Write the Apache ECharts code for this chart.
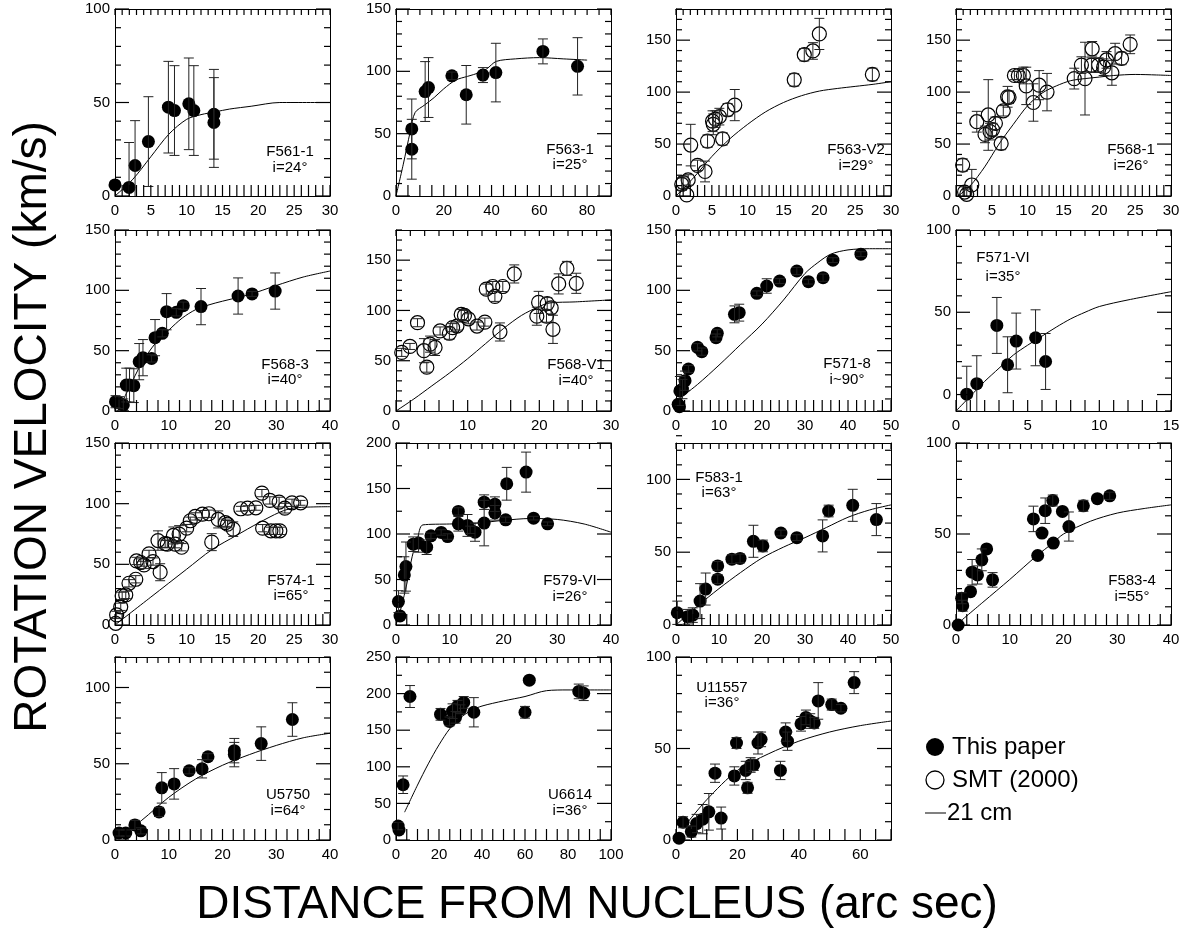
<!DOCTYPE html>
<html><head><meta charset="utf-8">
<script src="https://cdn.jsdelivr.net/npm/echarts@6/dist/echarts.min.js"></script>
<style>html,body{margin:0;padding:0;background:#fff}#c{width:1190px;height:947px}</style>
</head><body><div id="c"></div>
<script>
// ---------- tick label arrays ----------
const x30by5 = [0,5,10,15,20,25,30];
const x90by20 = [0,20,40,60,80];
const x30by10 = [0,10,20,30];
const x40by10 = [0,10,20,30,40];
const x50by10 = [0,10,20,30,40,50];
const x15by5 = [0,5,10,15];
const x100by20 = [0,20,40,60,80,100];
const x70by20 = [0,20,40,60];
const y100 = [0,50,100];
const y150 = [0,50,100,150];
const y200 = [0,50,100,150,200];
const y250 = [0,50,100,150,200,250];

// ---------- data: [radius arcsec, velocity km/s, error] ----------
const f561_1_paper = [[0,5.9,0],[1.96,4.6,24],[2.8,16.3,24],[4.66,29.1,24],[7.45,47.5,24.5],[8.3,45.7,24],[10.3,49.3,24.5],[11.0,45.7,24],[13.8,43.7,24],[13.8,39.3,24]];
const f561_1_hi = [[0,0],[2.5,9],[5,21],[7.5,33],[10,41],[12,43.5],[14,45],[16,46.5],[19,48],[23,50],[30,50]];

const f563_1_paper = [[6.6,53.8,24],[6.6,37.5,24],[12.2,83.8,24],[13.6,87,24],[23.4,96.4,3],[29.4,81.2,23.5],[36.4,97,6],[41.8,99,23.5],[61.5,116,10],[76,104,23]];
const f563_1_hi = [[0,0],[3,25],[6,52],[8,67],[12,73],[16,79],[20,86],[25,93],[30,96],[35,99],[38,102],[42,108],[50,110],[60,111],[70,110],[80,109]];

const f563_v2_smt = [[0.8,11.3,6],[1.0,13,6],[1.5,1,0],[1.7,15.5,5],[2.05,49,20],[3.0,29.5,5],[4.05,23.6,10],[4.4,52.8,6],[5.1,72,10],[5.2,69,10],[5.5,74,8],[6.05,76.4,8],[6.5,55,6],[7.2,83,6],[8.2,87.5,15],[16.5,111.8,6],[17.9,136,6],[19.1,139.6,8],[20,156,15],[27.4,117,6]];
const f563_v2_hi = [[0,0],[2.5,18],[5,38],[7.5,55],[10,69],[12.5,81],[15,90],[17.5,96.5],[20,101],[22.5,103.5],[25,105.5],[27.5,107.5],[30,110]];

const f568_1_smt = [[0.93,29.8,6],[1.2,3.8,5],[1.5,1.6,5],[2.2,10.6,15],[2.9,71.5,10],[4.05,59.3,8],[4.5,78,34],[4.75,62,8],[5.1,64,6],[5.5,70,6],[6.3,50.6,6],[6.6,82,5],[7.2,95.5,10],[7.4,95,6],[8.15,116,4],[8.7,116,4],[9.4,116,8],[9.8,106,18],[10.8,90,18],[11.6,106.7,14],[12.7,100,18],[16.5,113,10],[17.5,126,8],[18,113,35],[18.9,126,7],[19,141.7,7],[19.9,126,7],[20.6,124,8],[21,131,8],[21.75,118.6,12],[22.2,137,10],[23.1,132.4,6],[24.3,146,9]];
const f568_1_hi = [[0.3,0],[2,10],[4,28],[6,50],[8,69],[10,87],[12,99],[14,106],[16,111],[18,113],[20,114.5],[22,116],[25,117],[28,116.5],[30,116]];

const f568_3_paper = [[0.1,7.7,5],[0.75,6.9,5],[1.55,5,5],[2.1,21.5,14],[2.7,21.5,14],[3.5,21,14],[4.5,40.9,15],[5.2,44.2,15],[6.8,43.6,3],[7.45,60.8,15],[8.8,64.4,3],[9.6,82.3,15],[11.4,81.8,3],[12.7,87.3,3],[16,86.5,15],[22.9,95.3,15],[25.5,97,2],[29.8,99.4,15]];
const f568_3_hi = [[0.5,0],[2.5,18],[5,40],[7.5,56],[10,67],[12.5,77],[15,84],[17.5,88],[20,91],[25,96.5],[30,104],[35,111],[40,116]];

const f568_v1_smt = [[0.8,58.3,4],[1.95,64.2,3],[3,87.8,4],[3.9,60,12],[4.3,43.6,5],[4.75,66.5,8],[5.45,63.2,8],[6.15,79.6,4],[7.45,77.3,6],[7.9,82.9,4],[8.5,84.5,4],[9.1,96,5],[9.55,95,5],[10.1,91.7,5],[11.3,84.5,4],[12.4,88.4,4],[12.6,121.2,5],[13.5,123.8,5],[13.8,114,5],[14.9,123.8,5],[14.5,78.6,9],[16.5,136.3,9],[19.65,94.3,9],[19.9,108,11],[21,94.3,6],[21.1,106.8,6],[21.65,102.5,6],[21.9,81.2,14],[22.7,126.4,10],[23.85,141.8,7],[25.15,127,10]];
const f568_v1_hi = [[0,0],[2.5,12],[5,25],[7.5,38],[10,52],[12.5,67],[15,82],[17.5,95],[20,104],[21.5,107.5],[25,108.5],[30,110.5]];

const f571_8_paper = [[0.5,5.5,0],[0.8,3.6,0],[0.9,16.6,12],[1.5,18.2,8],[2.1,25.1,8],[2.9,34.8,3],[5,52.8,3],[6,49.2,3],[9.3,60.8,3],[9.6,64.4,3],[13.6,80.1,7],[14.7,81.5,7],[18.8,97.5,2],[21.1,103.6,6],[24.1,107.7,2],[28.1,116,3],[30.8,107.2,2],[34.2,110.5,3],[36.5,125,2],[43,130,2]];
const f571_8_hi = [[0,8],[5,22],[10,38],[15,55],[20,72],[25,92],[30,114],[33,123],[36,130],[40,133.5],[45,134.5],[50,134.5]];

const f571_vi_paper = [[0.75,0.2,17],[1.45,6.6,17],[2.85,42,17],[3.6,18.1,17],[4.2,32.5,17],[5.55,34.5,17],[6.25,20.1,17]];
const f571_vi_hi = [[0,-10],[1,-1],[2,8],[3,16],[4,24],[5,30],[6,35.5],[7,41],[8,46],[9,50],[10,53.5],[12,57.5],[15,62.5]];

const f574_1_smt = [[0.1,1.4,0],[0.23,8.3,3],[0.8,15,3],[1,24,3],[1.5,24.8,3],[1.95,34.4,3],[2.9,37.7,3],[3,52.8,3],[3.6,51.5,3],[4.05,49.5,3],[4.75,58.6,3],[5.3,52.3,3],[6.3,43.5,7],[6,69.6,8],[7,67,3],[7.3,66.6,3],[8.15,73.8,7],[8.4,66.6,3],[8.95,74.9,7],[9.3,64.1,3],[10,79.8,3],[10.5,85.9,3],[11.2,89.5,3],[12.2,91.4,3],[13.1,91.7,3],[13.5,68.3,7],[14.4,87,7],[15.4,84.3,3],[15.7,83.1,3],[16.5,79,6],[17.55,95.8,2],[18.5,96.3,2],[19.65,96.6,2],[20.5,108.7,3],[20.6,79.8,3],[21.6,102.7,3],[21.75,77.6,3],[22.45,77.6,3],[22.9,101.3,4],[23,77.6,3],[23.7,96.3,4],[24.7,100.7,3],[25.9,100.7,2]];
const f574_1_hi = [[0,0],[5,23],[10,46],[13.5,62],[17,74],[20,84],[23,93],[25,96.5],[30,97.5]];

const f579_vi_paper = [[0.45,25.7,12],[0.75,9.9,0],[1.55,55,20],[1.85,64.2,27],[3.2,88.8,8],[4.2,90,10],[5.7,85.5,8],[6.5,98,3],[8.4,101.7,3],[9.6,97.2,3],[11.6,124.8,4],[11.6,111.2,8],[13.3,109.4,12],[13.8,104.6,4],[14.7,102,10],[16.4,135,8],[16.4,112,25],[18.4,132.8,8],[18.4,123.3,8],[20.4,115.6,3],[20.6,155.2,18],[24.2,168,22],[25.6,117.4,2],[28.2,111.2,2]];
const f579_vi_hi = [[0,0],[1,20],[2,45],[3,75],[4,95],[5,110],[10,111],[15,112],[20,115],[25,117],[30,116],[35,111],[40,102]];

const f583_1_paper = [[0.3,8.4,8],[2.7,5.7,5],[3.9,6.8,5],[5.6,16.4,12],[6.9,24.7,11],[9.7,40.6,3],[9.7,31.5,3],[13,45.2,3],[14.9,45.7,3],[18,57.5,11],[20.2,54.3,4],[24.4,63.2,2],[28.1,60,2],[34.1,61.2,11],[35.5,78.3,4],[41.1,82.2,11],[46.6,72.4,11]];
const f583_1_hi = [[0,0],[5,13],[10,25],[15,36],[20,46],[25,53.5],[30,60],[35,67],[40,74],[45,79],[50,82.5]];

const f583_4_paper = [[0.4,0,0],[1.05,14.7,3],[1.25,10.6,3],[2.7,18.3,0],[3,29,7],[4,27.5,5],[4.8,35.8,6],[5.7,41.8,0],[6.8,24.8,4],[14.4,58.3,7],[15.2,38.2,0],[16,50.5,0],[16.6,62.8,7],[18,68.4,3],[18.1,45,0],[19.8,62.4,0],[21,54.1,8],[23.7,65.5,3],[26.3,69.4,0],[28.6,71,2]];
const f583_4_hi = [[0,0],[5,12.5],[10,25],[15,38],[18,45],[20,50],[25,57],[30,61.5],[35,64],[40,66]];

const u5750_paper = [[0.75,4.6,2],[2,4.6,2],[3.7,9.9,3],[4.8,6,2],[8.2,18.4,3],[8.7,34.2,10],[11,36.8,10],[13.8,45.4,2],[16.2,46.7,6],[17.3,54.6,2],[22.2,58.6,8],[22.2,56,8],[27.2,63.2,11],[33,79,11]];
const u5750_hi = [[0,0],[5,13],[10,28],[15,40],[20,49],[25,56],[30,62],[35,67],[40,70]];

const u6614_paper = [[1,19,5],[1.4,13.7,0],[3.3,75.5,12],[6.5,196,15],[20.7,171.7,8],[24.9,162,6],[26.3,176,10],[27.7,167.6,8],[28.6,182.7,8],[30,178.6,6],[31.5,188,8],[36.2,174.5,20],[60,174.5,8],[62,218.4,0],[85,203,10],[87.3,200.5,10]];
const u6614_hi = [[4,38],[10,75],[15,104],[20,130],[25,152],[30,167],[35,177],[40,183],[50,190],[60,196],[70,204],[80,205],[100,205]];

const u11557_paper = [[1,1,0],[2.3,9.7,3],[5,4.6,3],[6.7,9,5],[8.7,11.4,8],[10.7,15.4,10],[12.7,36.5,5],[14.7,12,6],[19,35,5],[19.7,53,3],[22.7,38,5],[23.3,28.5,3],[24.3,41,4],[25.3,41,3],[26.7,53,6],[27.7,55,4],[34,38,5],[35.7,59,5],[36.3,54,5],[40.7,63.5,4],[42.3,67,4],[43.7,65,4],[45,64,3],[46.3,76,10],[50.7,74,3],[53.7,72,2],[58,86,6]];
const u11557_hi = [[3,8],[10,22],[20,38],[30,47],[40,54],[50,59],[60,62.5],[70,65]];

// ---------- panel definitions ----------
const panels = [
 {name:'F561-1', incl:'i=24\u00b0', paper:f561_1_paper, smt:null, hi:f561_1_hi, xr:[0,30], xm:1, xt:x30by5, yr:[0,100], ym:10, yt:y100},
 {name:'F563-1', incl:'i=25\u00b0', paper:f563_1_paper, smt:null, hi:f563_1_hi, xr:[0,90], xm:5, xt:x90by20, yr:[0,150], ym:10, yt:y150},
 {name:'F563-V2', incl:'i=29\u00b0', paper:null, smt:f563_v2_smt, hi:f563_v2_hi, xr:[0,30], xm:1, xt:x30by5, yr:[0,180], ym:10, yt:y150},
 {name:'F568-1', incl:'i=26\u00b0', paper:null, smt:f568_1_smt, hi:f568_1_hi, xr:[0,30], xm:1, xt:x30by5, yr:[0,180], ym:10, yt:y150},
 {name:'F568-3', incl:'i=40\u00b0', paper:f568_3_paper, smt:null, hi:f568_3_hi, xr:[0,40], xm:2, xt:x40by10, yr:[0,150], ym:10, yt:y150},
 {name:'F568-V1', incl:'i=40\u00b0', paper:null, smt:f568_v1_smt, hi:f568_v1_hi, xr:[0,30], xm:2, xt:x30by10, yr:[0,180], ym:10, yt:y150},
 {name:'F571-8', incl:'i~90\u00b0', paper:f571_8_paper, smt:null, hi:f571_8_hi, xr:[0,50], xm:2, xt:x50by10, yr:[0,150], ym:10, yt:y150},
 {name:'F571-VI', incl:'i=35\u00b0', paper:f571_vi_paper, smt:null, hi:f571_vi_hi, xr:[0,15], xm:1, xt:x15by5, yr:[-10,100], ym:10, yt:y100},
 {name:'F574-1', incl:'i=65\u00b0', paper:null, smt:f574_1_smt, hi:f574_1_hi, xr:[0,30], xm:1, xt:x30by5, yr:[0,150], ym:10, yt:y150},
 {name:'F579-VI', incl:'i=26\u00b0', paper:f579_vi_paper, smt:null, hi:f579_vi_hi, xr:[0,40], xm:2, xt:x40by10, yr:[0,200], ym:25, yt:y200},
 {name:'F583-1', incl:'i=63\u00b0', paper:f583_1_paper, smt:null, hi:f583_1_hi, xr:[0,50], xm:2, xt:x50by10, yr:[0,125], ym:10, yt:y100},
 {name:'F583-4', incl:'i=55\u00b0', paper:f583_4_paper, smt:null, hi:f583_4_hi, xr:[0,40], xm:2, xt:x40by10, yr:[0,100], ym:10, yt:y100},
 {name:'U5750', incl:'i=64\u00b0', paper:u5750_paper, smt:null, hi:u5750_hi, xr:[0,40], xm:2, xt:x40by10, yr:[0,120], ym:10, yt:y100},
 {name:'U6614', incl:'i=36\u00b0', paper:u6614_paper, smt:null, hi:u6614_hi, xr:[0,100], xm:5, xt:x100by20, yr:[0,250], ym:25, yt:y250},
 {name:'U11557', incl:'i=36\u00b0', paper:u11557_paper, smt:null, hi:u11557_hi, xr:[0,70], xm:5, xt:x70by20, yr:[0,100], ym:10, yt:y100}
];

// ---------- layout ----------
const COLS = [115, 396, 676, 956];
const ROWS = [[9,187],[230,181],[443,182],[657,183]];
const PW = 215;
// label centres [x, yName, yIncl]
const LABELPOS = [[290,152,168],[570,150,165],[856,150,166],[1131,150,166],
                  [285,365,380],[576,365,381],[847,364,380],[1003,258,277],
                  [291,581,596],[570,581,597],[719,478,493],[1132,581,597],
                  [288,795,811],[570,795,811],[722,688,703]];
const TICK = {bottom:11, top:6, minor:6, major:14, w:1.2};

const FONT = '"Liberation Sans", Arial, sans-serif';
const BLACK = '#000';
const grid = [], xAxis = [], yAxis = [], series = [], graphic = [];

function errSeries(data, xi, yi, yr){
  return {
    type:'custom', xAxisIndex:xi, yAxisIndex:yi, z:5, silent:true,
    dimensions:['x','y','e'], encode:{x:0, y:1},
    data: data.filter(d => d[2] > 0),
    renderItem: function(params, api){
      const x = api.value(0), y = api.value(1), e = api.value(2);
      const top = Math.min(y + e, yr[1]), bot = Math.max(y - e, yr[0]);
      const pt = api.coord([x, top]), pb = api.coord([x, bot]);
      const st = {fill:'#222'};
      const ch = [{type:'rect', shape:{x:pt[0]-0.5, y:pt[1], width:1, height:pb[1]-pt[1]}, style:st}];
      if (y + e <= yr[1]) ch.push({type:'rect', shape:{x:pt[0]-5, y:pt[1]-0.5, width:10, height:1}, style:st});
      if (y - e >= yr[0]) ch.push({type:'rect', shape:{x:pb[0]-5, y:pb[1]-0.5, width:10, height:1}, style:st});
      return {type:'group', children:ch};
    }
  };
}

// inward tick marks on all four sides, drawn as thin rect symbols through the panel's axes,
// on their own canvas layer (zlevel 1) so nothing in the base layer can hide them
function tickSeries(p, xi, yi){
  const items = [];
  const nx = Math.round((p.xr[1] - p.xr[0]) / p.xm);
  for (let j = 0; j <= nx; j++) {
    const v = p.xr[0] + j * p.xm;
    items.push({value:[v, p.yr[0]], symbolSize:[TICK.w, TICK.bottom], symbolOffset:[0, -TICK.bottom / 2]});
    items.push({value:[v, p.yr[1]], symbolSize:[TICK.w, TICK.top], symbolOffset:[0, TICK.top / 2]});
  }
  const ny = Math.round((p.yr[1] - p.yr[0]) / p.ym);
  for (let j = 0; j <= ny; j++) {
    const v = p.yr[0] + j * p.ym;
    const len = p.yt.indexOf(v) >= 0 ? TICK.major : TICK.minor;
    items.push({value:[p.xr[0], v], symbolSize:[len, TICK.w], symbolOffset:[len / 2, 0]});
    items.push({value:[p.xr[1], v], symbolSize:[len, TICK.w], symbolOffset:[-len / 2, 0]});
  }
  return {type:'scatter', xAxisIndex:xi, yAxisIndex:yi, zlevel:1, z:100, silent:true, clip:false,
    symbol:'rect', itemStyle:{color:BLACK, opacity:1}, data:items, large:false};
}

panels.forEach((p, i) => {
  const col = i % 4, row = Math.floor(i / 4);
  grid.push({left:COLS[col], top:ROWS[row][0], width:PW, height:ROWS[row][1], show:false});
  const xb = xAxis.length, yb = yAxis.length;
  const line = {show:true, onZero:false, lineStyle:{color:BLACK, width:1}};
  const common = {type:'value', gridIndex:i, splitLine:{show:false}, splitArea:{show:false}, axisTick:{show:false}, silent:true};
  xAxis.push(Object.assign({}, common, {position:'bottom', min:p.xr[0], max:p.xr[1], interval:p.xm,
    axisLine:line, axisLabel:{customValues:p.xt, fontSize:15, color:BLACK, fontFamily:FONT, margin:7}}));
  xAxis.push(Object.assign({}, common, {position:'top', min:p.xr[0], max:p.xr[1], interval:p.xm,
    axisLine:line, axisLabel:{show:false}}));
  yAxis.push(Object.assign({}, common, {position:'left', min:p.yr[0], max:p.yr[1], interval:p.ym,
    axisLine:line, axisLabel:{customValues:p.yt, fontSize:15, color:BLACK, fontFamily:FONT, margin:5}}));
  yAxis.push(Object.assign({}, common, {position:'right', min:p.yr[0], max:p.yr[1], interval:p.ym,
    axisLine:line, axisLabel:{show:false}}));

  series.push(tickSeries(p, xb, yb));
  series.push({type:'line', name:'21 cm', xAxisIndex:xb, yAxisIndex:yb, data:p.hi, showSymbol:false, symbol:'none',
    smooth:0.3, lineStyle:{color:BLACK, width:1}, z:2, silent:true});
  if (p.paper) {
    series.push({type:'scatter', name:'This paper', xAxisIndex:xb, yAxisIndex:yb, data:p.paper.map(d => [d[0], d[1]]),
      symbol:'circle', symbolSize:13, itemStyle:{color:BLACK, opacity:1}, z:3, clip:false, silent:true});
    series.push(errSeries(p.paper, xb, yb, p.yr));
  }
  if (p.smt) {
    series.push({type:'scatter', name:'SMT (2000)', xAxisIndex:xb, yAxisIndex:yb, data:p.smt.map(d => [d[0], d[1]]),
      symbol:'circle', symbolSize:14, itemStyle:{color:'rgba(255,255,255,0)', borderColor:BLACK, borderWidth:1.2, opacity:1}, z:3, clip:false, silent:true});
    series.push(errSeries(p.smt, xb, yb, p.yr));
  }
  const lp = LABELPOS[i];
  graphic.push({type:'text', x:lp[0], y:lp[1], z:10, style:{text:p.name, font:'15px ' + FONT, fill:BLACK, textAlign:'center', textVerticalAlign:'middle'}});
  graphic.push({type:'text', x:lp[0], y:lp[2], z:10, style:{text:p.incl, font:'15px ' + FONT, fill:BLACK, textAlign:'center', textVerticalAlign:'middle'}});
});

// legend (drawn as graphic)
graphic.push({type:'circle', shape:{cx:935, cy:747, r:9}, style:{fill:BLACK}});
graphic.push({type:'text', x:952, y:747, style:{text:'This paper', font:'24px ' + FONT, fill:BLACK, textVerticalAlign:'middle'}});
graphic.push({type:'circle', shape:{cx:935, cy:780, r:9}, style:{fill:'#fff', stroke:BLACK, lineWidth:1.3}});
graphic.push({type:'text', x:952, y:780, style:{text:'SMT (2000)', font:'24px ' + FONT, fill:BLACK, textVerticalAlign:'middle'}});
graphic.push({type:'rect', shape:{x:925, y:812.5, width:21, height:1}, style:{fill:BLACK}});
graphic.push({type:'text', x:947, y:813, style:{text:'21 cm', font:'24px ' + FONT, fill:BLACK, textVerticalAlign:'middle'}});
// axis titles
graphic.push({type:'text', x:597, y:905, style:{text:'DISTANCE FROM NUCLEUS (arc sec)', font:'46px ' + FONT, fill:BLACK, textAlign:'center', textVerticalAlign:'middle'}});
graphic.push({type:'text', x:33, y:427, rotation:Math.PI/2, style:{text:'ROTATION VELOCITY (km/s)', font:'46px ' + FONT, fill:BLACK, textAlign:'center', textVerticalAlign:'middle'}});

const chart = echarts.init(document.getElementById('c'), null, {renderer:'canvas'});
chart.setOption({animation:false, backgroundColor:'#fff', textStyle:{fontFamily:FONT},
  grid, xAxis, yAxis, series, graphic});
</script>
</body></html>
